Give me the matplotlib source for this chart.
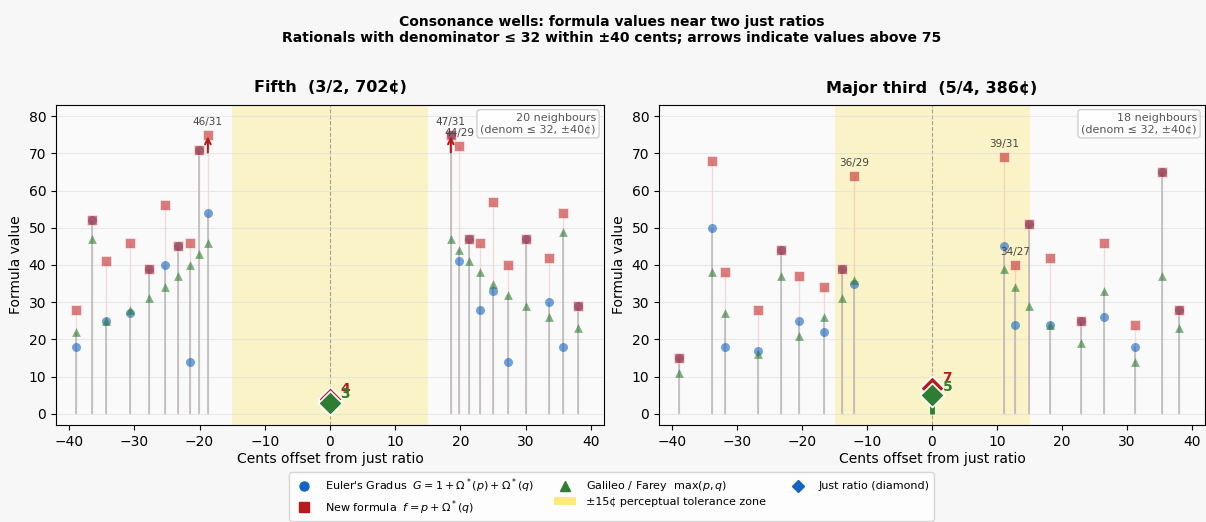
import numpy as np
import matplotlib
matplotlib.use("Agg")
import matplotlib.pyplot as plt
from matplotlib.lines import Line2D
from matplotlib.patches import Patch

# --- data ---
# Fifth (3/2): neighbours within +-40 cents, denominator <= 32
fifth_ratios = ["22/15", "47/32", "25/17", "28/19", "31/21", "34/23", "37/25", "40/27", "43/29", "46/31",
                "47/31", "44/29", "41/27", "38/25", "35/23", "32/21", "29/19", "26/17", "49/32", "23/15"]
fifth_cents = [-38.91, -36.45, -34.28, -30.64, -27.70, -25.27, -23.24, -21.51, -20.01, -18.72,
               18.52, 19.79, 21.24, 22.93, 24.91, 27.26, 30.11, 33.62, 35.70, 38.05]
fifth_euler = [18, 52, 25, 27, 39, 40, 45, 14, 71, 54, 77, 41, 47, 28, 33, 14, 47, 30, 18, 29]
fifth_galileo = [22, 47, 25, 28, 31, 34, 37, 40, 43, 46, 47, 44, 41, 38, 35, 32, 29, 26, 49, 23]
fifth_new = [28, 52, 41, 46, 39, 56, 45, 46, 71, 76, 77, 72, 47, 46, 57, 40, 47, 42, 54, 29]
fifth_labelled = ["46/31", "47/31", "44/29"]
fifth_just = (4, 3, 4)  # euler, galileo, new

# Major third (5/4)
third_ratios = ["11/9", "38/31", "27/22", "16/13", "37/30", "21/17", "26/21", "31/25", "36/29",
                "39/31", "34/27", "29/23", "24/19", "19/15", "33/26", "14/11", "37/29", "23/18"]
third_cents = [-38.91, -33.84, -31.77, -26.84, -23.24, -20.49, -16.57, -13.91, -11.98,
               11.13, 12.78, 14.99, 18.13, 22.93, 26.43, 31.19, 35.45, 38.05]
third_euler = [15, 50, 18, 17, 44, 25, 22, 39, 35, 45, 24, 51, 24, 25, 26, 18, 65, 28]
third_galileo = [11, 38, 27, 16, 37, 21, 26, 31, 36, 39, 34, 29, 24, 19, 33, 14, 37, 23]
third_new = [15, 68, 38, 28, 44, 37, 34, 39, 64, 69, 40, 51, 42, 25, 46, 24, 65, 28]
third_labelled = ["36/29", "39/31", "34/27"]
third_just = (7, 5, 7)

CAP = 75
BLUE = "#1565C0"
RED = "#C62828"
DARKRED = "#B71C1C"
GREEN = "#2E7D32"

fig = plt.figure(figsize=(12.06, 5.22), dpi=100, facecolor="#f7f7f7")
fig.text(0.507, 1 - 30 / 522,
         "Consonance wells: formula values near two just ratios\n"
         "Rationals with denominator \u2264 32 within \u00b140 cents; arrows indicate values above 75",
         ha="center", va="center", fontsize=10, fontweight="bold", linespacing=1.25)

ax1 = fig.add_axes([56 / 1206, 97 / 522, 548 / 1206, 320 / 522])
ax2 = fig.add_axes([659 / 1206, 97 / 522, 546 / 1206, 320 / 522])


def panel(ax, title, ratios, cents, euler, galileo, new, labelled, just):
    x = np.array(cents)
    g = np.minimum(euler, CAP)
    gal = np.minimum(galileo, CAP)
    f = np.minimum(new, CAP)

    ax.set_facecolor("#fafafa")
    ax.axvspan(-15, 15, color="gold", alpha=0.2, lw=0, zorder=0)
    ax.axvline(0, color="gray", ls="--", lw=0.8, alpha=0.7, zorder=1)
    ax.grid(axis="y", color="#dddddd", lw=0.8, alpha=0.6, zorder=0)

    # stems
    ax.vlines(x, 0, f, color=RED, alpha=0.15, lw=1, zorder=1)
    ax.vlines(x, 0, np.maximum(g, gal), color="#b8b8b8", lw=1.1, zorder=2)

    ax.scatter(x, g, marker="o", s=42, color=BLUE, alpha=0.6, lw=0, zorder=3)
    ax.scatter(x, f, marker="s", s=42, color=RED, alpha=0.6, edgecolor="white", lw=0.6, zorder=4)
    ax.scatter(x, gal, marker="^", s=40, color=GREEN, alpha=0.6, lw=0, zorder=5)

    # arrows for values above the cap
    for xi, a, b in zip(x, euler, new):
        if a > CAP or b > CAP:
            ax.annotate("", xy=(xi, CAP + 0.3), xytext=(xi, CAP - 5.5),
                        arrowprops=dict(arrowstyle="->", color=DARKRED, lw=1.5), zorder=6)

    # labels of nearest neighbours
    for r, xi, a, b, c in zip(ratios, x, g, gal, f):
        if r in labelled:
            ax.text(xi, max(a, b, c) + 3.5, r, ha="center", va="center", fontsize=7.5, color="#444444", zorder=7)

    # just ratio diamonds
    ge, ga, fn = just
    ax.vlines(0, 0, ga, color=GREEN, lw=3.5, zorder=6)
    ax.scatter([0], [ge], marker="D", s=150, color=BLUE, edgecolor="white", lw=1.2, zorder=7)
    ax.scatter([0], [fn], marker="D", s=150, color=DARKRED, edgecolor="white", lw=1.2, zorder=8)
    ax.scatter([0], [ga], marker="D", s=150, color=GREEN, edgecolor="white", lw=1.2, zorder=9)
    ax.annotate(str(fn), (0, fn), xytext=(11, 7), textcoords="offset points", ha="center", va="center",
                fontsize=10, fontweight="bold", color=DARKRED, zorder=10)
    ax.annotate(str(ga), (0, ga), xytext=(11, 6), textcoords="offset points", ha="center", va="center",
                fontsize=10, fontweight="bold", color=GREEN, zorder=10)

    ax.text(0.985, 0.975, f"{len(ratios)} neighbours\n(denom \u2264 32, \u00b140\u00a2)",
            transform=ax.transAxes, ha="right", va="top", fontsize=8, color="#555555",
            bbox=dict(boxstyle="round,pad=0.3", fc="white", ec="#cccccc", alpha=0.9), zorder=10)

    ax.set_xlim(-42, 42)
    ax.set_ylim(-3, 83)
    ax.set_xticks(range(-40, 41, 10))
    ax.set_yticks(range(0, 81, 10))
    ax.tick_params(labelsize=10)
    ax.set_xlabel("Cents offset from just ratio", fontsize=10, labelpad=2)
    ax.set_ylabel("Formula value", fontsize=10)
    ax.set_title(title, fontsize=11.5, fontweight="bold", pad=9)


panel(ax1, "Fifth  (3/2, 702\u00a2)", fifth_ratios, fifth_cents, fifth_euler, fifth_galileo,
      fifth_new, fifth_labelled, fifth_just)
panel(ax2, "Major third  (5/4, 386\u00a2)", third_ratios, third_cents, third_euler, third_galileo,
      third_new, third_labelled, third_just)

handles = [
    Line2D([], [], marker="o", ls="none", color=BLUE, markersize=6.5,
           label=r"Euler's Gradus  $G = 1 + \Omega^*(p) + \Omega^*(q)$"),
    Line2D([], [], marker="s", ls="none", color=DARKRED, markersize=6.5,
           label=r"New formula  $f = p + \Omega^*(q)$"),
    Line2D([], [], marker="^", ls="none", color=GREEN, markersize=6.5,
           label=r"Galileo / Farey  $\max(p, q)$"),
    Patch(facecolor="gold", alpha=0.5, label="\u00b115\u00a2 perceptual tolerance zone"),
    Line2D([], [], marker="D", ls="none", color=BLUE, markersize=6.5, label="Just ratio (diamond)"),
]
fig.legend(handles=handles, loc="lower center", bbox_to_anchor=(0.507, -0.008), ncol=3,
           fontsize=8, frameon=True, facecolor="white", edgecolor="#cccccc",
           columnspacing=1.8, handletextpad=0.9, labelspacing=0.3, borderpad=0.35)

fig.savefig("out.png", dpi=100, facecolor=fig.get_facecolor())
